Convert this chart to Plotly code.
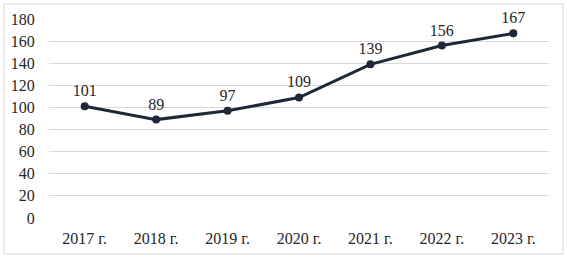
import plotly.graph_objects as go

years = ["2017 г.", "2018 г.", "2019 г.", "2020 г.", "2021 г.", "2022 г.", "2023 г."]
values = [101, 89, 97, 109, 139, 156, 167]
y_ticks = [0, 20, 40, 60, 80, 100, 120, 140, 160, 180]

FONT = "Liberation Serif"
LINE = "#1e2838"

fig = go.Figure()
fig.add_trace(go.Scatter(
    x=years, y=values, mode="lines+markers+text",
    line=dict(color=LINE, width=3),
    marker=dict(color=LINE, size=8),
    text=[str(v) for v in values], textposition="top center",
    textfont=dict(family=FONT, size=16, color="#262626"),
    cliponaxis=False, showlegend=False,
))

fig.update_layout(
    width=567, height=257,
    margin=dict(l=49, r=18, t=19, b=39, autoexpand=False),
    paper_bgcolor="white", plot_bgcolor="white",
    font=dict(family=FONT, size=16, color="#262626"),
    xaxis=dict(type="category", range=[-0.5, 6.5], showgrid=False, zeroline=False,
               showline=False, ticks="outside", ticklen=6, tickcolor="rgba(0,0,0,0)",
               automargin=False,
               tickfont=dict(family=FONT, size=16, color="#262626")),
    yaxis=dict(range=[0, 180], tickvals=y_ticks, showgrid=True, gridcolor="#d9d9d9",
               gridwidth=1, zeroline=False, showline=False, ticks="outside", ticklen=10,
               tickcolor="rgba(0,0,0,0)", automargin=False,
               tickfont=dict(family=FONT, size=16, color="#262626")),
    shapes=[dict(type="rect", xref="paper", yref="paper",
                 x0=-0.09, x1=1.028, y0=-0.181, y1=1.075,
                 line=dict(color="#d9d9d9", width=1), fillcolor="rgba(0,0,0,0)")],
)

fig.write_html("out.html", config={"displayModeBar": False},
               post_script="document.body.style.margin='0px';document.body.style.overflow='hidden';")
